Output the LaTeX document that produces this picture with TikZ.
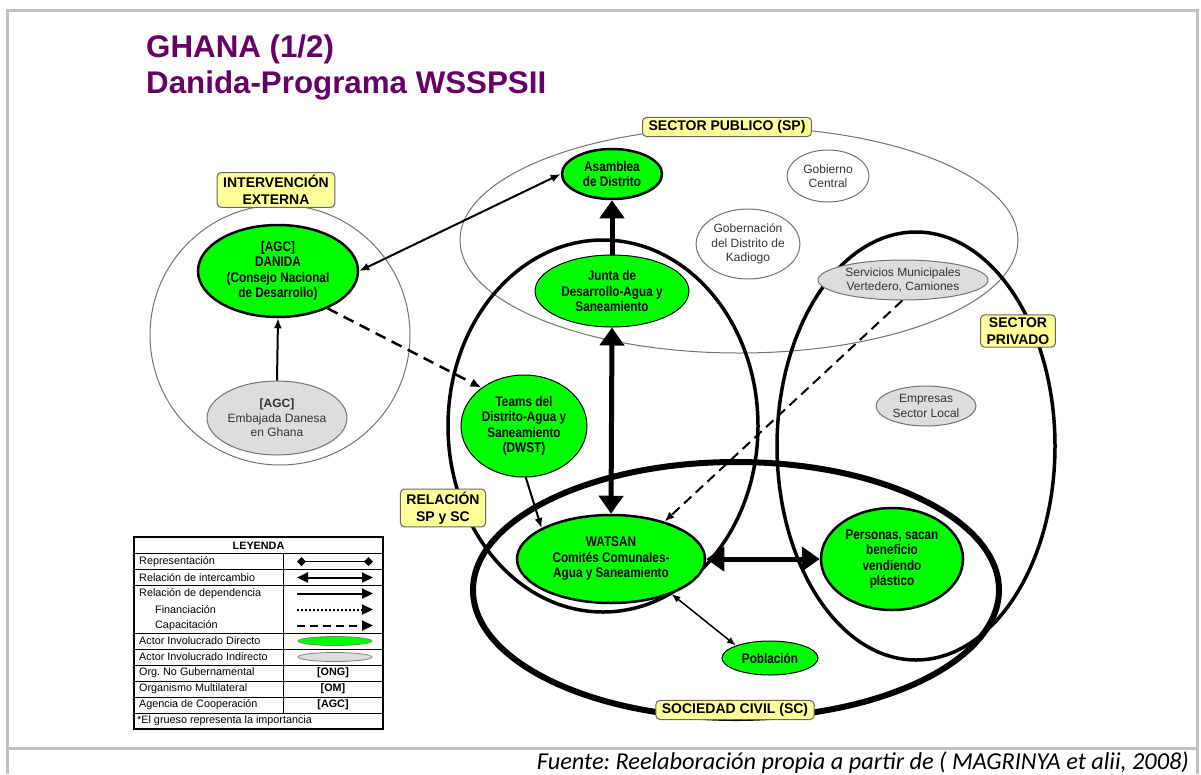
\documentclass[tikz,border=0pt]{standalone}
\usepackage{fontspec}
\setmainfont{Liberation Sans}
\newfontfamily\narrowfont[FakeStretch=0.84]{Liberation Sans}
\newfontfamily\calibrifont{Carlito}
\usetikzlibrary{arrows.meta,shapes.geometric}
\definecolor{actgreen}{HTML}{00FF00}
\definecolor{actgray}{HTML}{DDDDDD}
\definecolor{lblyellow}{HTML}{FFFF99}
\definecolor{titlepurple}{HTML}{660066}
\definecolor{framegray}{HTML}{C0C0C0}
\frenchspacing
\begin{document}
\begin{tikzpicture}[x=1pt,y=-1pt,
  direct/.style={ellipse, fill=actgreen, draw=black, line width=2.5pt, inner sep=0pt, align=center,
    font=\narrowfont\bfseries\fontsize{14}{15.5}\selectfont},
  directthin/.style={direct, line width=1pt},
  indirect/.style={ellipse, fill=actgray, draw=black!55, line width=1pt, inner sep=0pt, align=center,
    font=\fontsize{12}{14.5}\selectfont, text=black!80},
  other/.style={indirect, fill=white},
  lbl/.style={rectangle, rounded corners=4pt, fill=lblyellow, draw=black!60, line width=1pt,
    inner xsep=6pt, inner ysep=3pt, align=center, font=\bfseries\fontsize{14}{16.5}\selectfont},
  region/.style={line width=3.5pt},
  thinregion/.style={draw=black!55, line width=1pt},
  thinarrow/.style={line width=2pt, -{Latex[length=10pt,width=8pt]}},
  thinboth/.style={line width=2pt, {Latex[length=10pt,width=8pt]}-{Latex[length=10pt,width=8pt]}},
  thickarrow/.style={line width=5pt, -{Triangle[length=18pt,width=24pt]}},
  thickboth/.style={line width=5pt, {Triangle[length=18pt,width=24pt]}-{Triangle[length=18pt,width=24pt]}},
  capac/.style={line width=2.5pt, dash pattern=on 11pt off 7pt, -{Latex[length=11pt,width=9pt]}},
  legtext/.style={anchor=west, inner sep=0pt, font=\fontsize{10.8}{12}\selectfont},
]
\useasboundingbox (0,0) rectangle (1201,774);
% frame
\draw[framegray, line width=3pt] (7,774) -- (7,10) -- (1197,10) -- (1197,774);
\draw[framegray, line width=3pt] (7,748) -- (1197,748);

% title
\node[anchor=base west, inner sep=0pt, text=titlepurple, font=\bfseries\fontsize{31.3}{35}\selectfont] (title1) at (146,57) {GHANA (1/2)};
\node[anchor=base west, inner sep=0pt, text=titlepurple, font=\bfseries\fontsize{31.3}{35}\selectfont] (title2) at (146,93) {Danida-Programa WSSPSII};

% regions
\draw[thinregion] (280,335) circle [radius=130];
\draw[thinregion] (739,240) ellipse [x radius=279, y radius=113];
\draw[region] (603,426) ellipse [x radius=155, y radius=186];
\draw[region] (916,446) ellipse [x radius=139, y radius=214];
\draw[line width=6pt] (736,590) ellipse [x radius=263, y radius=128];

% region labels
\node[lbl] (lie) at (276,190) {INTERVENCIÓN\\EXTERNA};
\node[lbl] (lsp) at (727,127) {SECTOR PUBLICO (SP)};
\node[lbl] (lpriv) at (1018,331) {SECTOR\\PRIVADO};
\node[lbl] (lrel) at (443,508) {RELACIÓN\\SP y SC};
\node[lbl] (lsc) at (735,710) {SOCIEDAD CIVIL (SC)};

% actors
\node[direct, minimum width=160, minimum height=92] (danida) at (278,271) {[AGC]\\DANIDA\\(Consejo Nacional\\de Desarrollo)};
\node[indirect, minimum width=140, minimum height=74] (embajada) at (277,418) {\textbf{[AGC]}\\Embajada Danesa\\en Ghana};
\node[direct, minimum width=100, minimum height=50] (asamblea) at (612,174) {Asamblea\\de Distrito};
\node[other, minimum width=82, minimum height=52] (gobierno) at (828,176) {Gobierno\\Central};
\node[other, minimum width=96, minimum height=70] (gobernacion) at (748,244) {Gobernación\\del Distrito de\\Kadiogo};
\node[indirect, minimum width=170, minimum height=40] (servicios) at (903,280) {Servicios Municipales\\Vertedero, Camiones};
\node[directthin, minimum width=154, minimum height=72] (junta) at (612,291) {Junta de\\Desarrollo-Agua y\\Saneamiento};
\node[directthin, minimum width=126, minimum height=102] (teams) at (524,426) {Teams del\\Distrito-Agua y\\Saneamiento\\(DWST)};
\node[indirect, minimum width=100, minimum height=40] (empresas) at (926,406) {Empresas\\Sector Local};
\node[direct, minimum width=188, minimum height=88] (watsan) at (611,559) {WATSAN\\Comités Comunales-\\Agua y Saneamiento};
\node[direct, minimum width=142, minimum height=102] (personas) at (892,559) {Personas, sacan\\beneficio\\vendiendo\\plástico};
\node[directthin, minimum width=96, minimum height=34] (poblacion) at (770,658) {Población};

% connectors
\draw[thinboth] (danida.east) -- (asamblea.west);
\draw[thinarrow] (embajada.north) -- (danida.south);
\draw[capac] (danida.-37) -- (teams.138);
\draw[thickarrow] (junta.north) -- (asamblea.south);
\draw[thickboth] (watsan.north) -- (junta.south);
\draw[thickboth] (watsan.east) -- (personas.west);
\draw[thinarrow] (teams.-88) -- (watsan.156);
\draw[line width=2pt, dash pattern=on 10pt off 6pt, -{Latex[length=10pt,width=8pt]}] (servicios.-92) -- (watsan.35);
\draw[line width=1.5pt, {Latex[length=9pt,width=7pt]}-{Latex[length=9pt,width=7pt]}] (watsan.-30) -- (poblacion.160);

% legend
\draw[line width=1.5pt] (134,537) rectangle (383,729);
\foreach \yy in {553,569.5,585.5,633,649,665,681,697,713}
  \draw[line width=1pt] (134,\yy) -- (383,\yy);
\draw[line width=1pt] (283,553) -- (283,713);
\node[font=\bfseries\fontsize{10.8}{12}\selectfont, inner sep=0pt] (leyenda) at (258.5,545.5) {LEYENDA};
\node[legtext] (t1) at (139,561.5) {Representación};
\node[legtext] (t2) at (139,577.5) {Relación de intercambio};
\node[legtext] (t3) at (139,593.5) {Relación de dependencia};
\node[legtext] (t4) at (155,609.5) {Financiación};
\node[legtext] (t5) at (155,625.5) {Capacitación};
\node[legtext] (t6) at (139,641) {Actor Involucrado Directo};
\node[legtext] (t7) at (139,657) {Actor Involucrado Indirecto};
\node[legtext] (t8) at (139,673) {Org. No Gubernamental};
\node[legtext] (t9) at (139,689) {Organismo Multilateral};
\node[legtext] (t10) at (139,705) {Agencia de Cooperación};
\node[legtext] (t11) at (137,721) {*El grueso representa la importancia};
\coordinate (s1a) at (297,561.5); \coordinate (s1b) at (373,561.5);
\coordinate (s2a) at (297,577.5); \coordinate (s2b) at (373,577.5);
\coordinate (s3a) at (297,593.5); \coordinate (s3b) at (373,593.5);
\coordinate (s4a) at (297,609.5); \coordinate (s4b) at (373,609.5);
\coordinate (s5a) at (297,625.5); \coordinate (s5b) at (373,625.5);
\draw[line width=1.5pt, {Diamond[length=9pt,width=9pt]}-{Diamond[length=9pt,width=9pt]}] (s1a) -- (s1b);
\draw[line width=2pt, {Triangle[length=11pt,width=10pt]}-{Triangle[length=11pt,width=10pt]}] (s2a) -- (s2b);
\draw[line width=2pt, -{Triangle[length=11pt,width=10pt]}] (s3a) -- (s3b);
\draw[line width=2pt, dash pattern=on 2pt off 2pt, -{Triangle[length=11pt,width=10pt]}] (s4a) -- (s4b);
\draw[line width=2pt, dash pattern=on 8pt off 5pt, -{Triangle[length=11pt,width=10pt]}] (s5a) -- (s5b);
\node[ellipse, fill=actgreen, draw=black!50, line width=0.8pt, minimum width=74, minimum height=9, inner sep=0pt] (legd) at (335,641) {};
\node[ellipse, fill=actgray, draw=black!50, line width=0.8pt, minimum width=74, minimum height=9, inner sep=0pt] (legi) at (335,657) {};
\node[font=\bfseries\fontsize{10.8}{12}\selectfont, inner sep=0pt] (ong) at (333,673) {[ONG]};
\node[font=\bfseries\fontsize{10.8}{12}\selectfont, inner sep=0pt] (om) at (333,689) {[OM]};
\node[font=\bfseries\fontsize{10.8}{12}\selectfont, inner sep=0pt] (agc) at (333,705) {[AGC]};

% footer
\node[anchor=base east, inner sep=0pt, font=\calibrifont\itshape\fontsize{24.3}{27}\selectfont] (fuente) at (1189,769) {Fuente: Reelaboración propia a partir de ( MAGRINYA et alii, 2008)};
\end{tikzpicture}
\end{document}
